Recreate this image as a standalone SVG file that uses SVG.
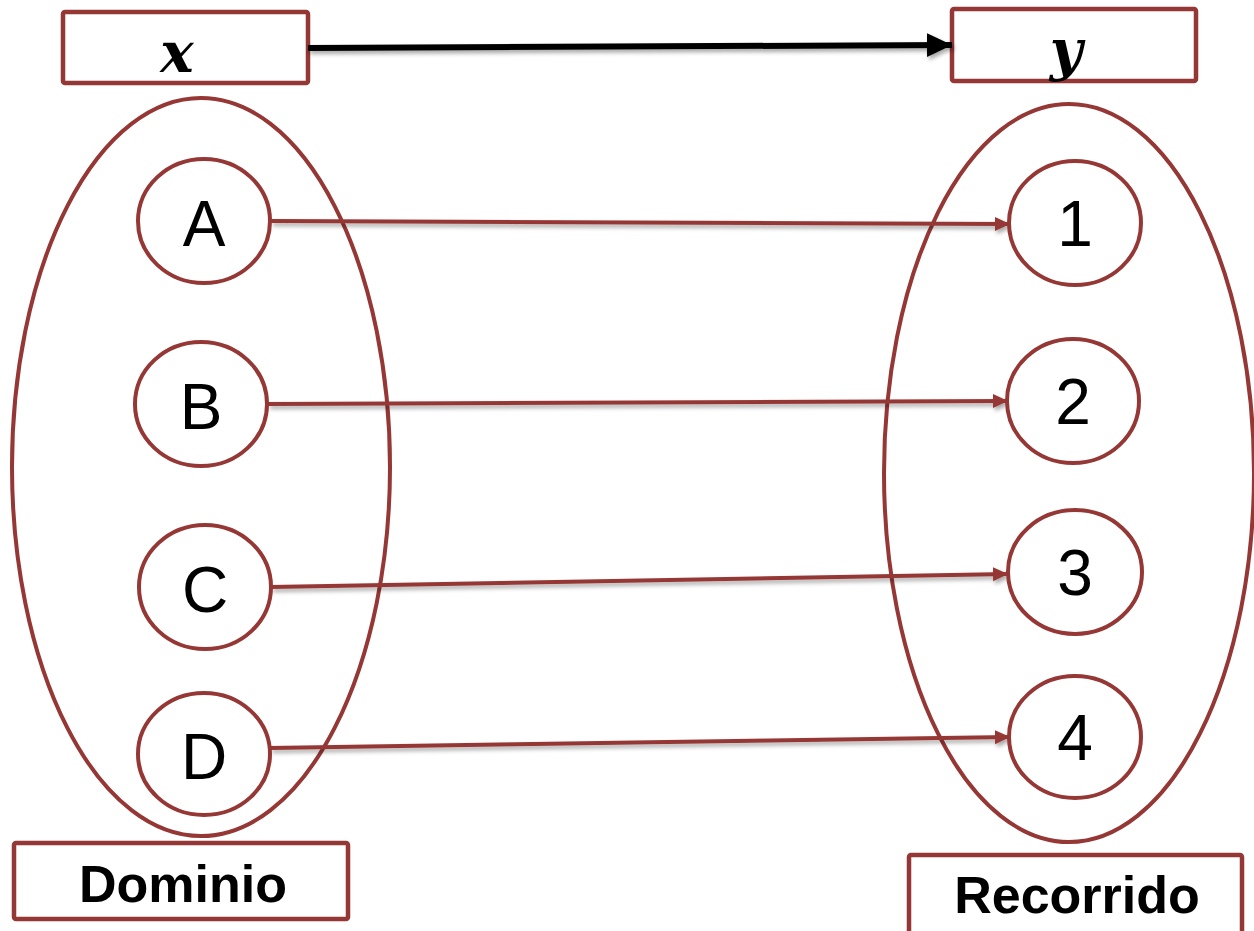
<svg xmlns="http://www.w3.org/2000/svg" width="1254" height="931" viewBox="0 0 1254 931">
<defs>
<style>
.box{fill:#fff;stroke:#953735;stroke-width:4.5}
.set{fill:none;stroke:#953735;stroke-width:4}
.el{fill:#fff;stroke:#953735;stroke-width:4}
.lbl{font-family:"Liberation Sans",Arial,sans-serif;font-size:64px;fill:#000;text-anchor:middle}
.bl{font-family:"Liberation Sans",Arial,sans-serif;font-size:52px;font-weight:bold;fill:#000;text-anchor:middle}
.math{font-family:"DejaVu Serif","Liberation Serif",serif;font-size:56px;font-weight:bold;font-style:italic;fill:#000;text-anchor:middle}
.red{stroke:#953735;stroke-width:4;fill:none;marker-end:url(#ar)}
.blk{stroke:#000;stroke-width:6;fill:none;marker-end:url(#ab)}
</style>
<marker id="ar" markerUnits="userSpaceOnUse" markerWidth="16" markerHeight="16" refX="15" refY="8" orient="auto">
<path d="M0,1 L15,8 L0,15 Z" fill="#953735"/>
</marker>
<marker id="ab" markerUnits="userSpaceOnUse" markerWidth="26" markerHeight="26" refX="25" refY="13" orient="auto">
<path d="M0,1 L25,13 L0,25 Z" fill="#000"/>
</marker>
<filter id="sh" x="-5%" y="-50%" width="110%" height="200%">
<feDropShadow dx="2" dy="3" stdDeviation="2" flood-color="#000" flood-opacity="0.35"/>
</filter>
</defs>
<g id="sets">
<ellipse class="set" cx="201" cy="467" rx="189" ry="369"/>
<ellipse class="set" cx="1069" cy="473" rx="185" ry="369"/>
</g>
<g id="node-x"><rect class="box" x="63" y="12" width="245" height="71" rx="2"/><text class="math" x="177" y="72">x</text></g>
<g id="node-y"><rect class="box" x="952" y="9" width="244" height="72" rx="2"/><text class="math" x="1066" y="70">y</text></g>
<g id="node-dominio"><rect class="box" x="14" y="843" width="334" height="76" rx="2"/><text class="bl" x="183" y="902">Dominio</text></g>
<g id="node-recorrido"><rect class="box" x="909" y="855" width="333" height="90" rx="2"/><text class="bl" x="1077" y="913">Recorrido</text></g>
<g id="connectors" filter="url(#sh)">
<line class="blk" x1="308" y1="48" x2="952" y2="45"/>
<line class="red" x1="271" y1="221" x2="1010" y2="224"/>
<line class="red" x1="268" y1="404" x2="1008" y2="401"/>
<line class="red" x1="271" y1="587" x2="1008" y2="574"/>
<line class="red" x1="270" y1="748" x2="1010" y2="737"/>
</g>
<g id="node-A"><ellipse class="el" cx="204" cy="221" rx="66" ry="62"/><text class="lbl" x="204" y="246">A</text></g>
<g id="node-B"><ellipse class="el" cx="201" cy="404" rx="66" ry="62"/><text class="lbl" x="201" y="429">B</text></g>
<g id="node-C"><ellipse class="el" cx="205" cy="587" rx="66" ry="62"/><text class="lbl" x="205" y="612">C</text></g>
<g id="node-D"><ellipse class="el" cx="204" cy="754" rx="66" ry="61"/><text class="lbl" x="204" y="779">D</text></g>
<g id="node-1"><ellipse class="el" cx="1075" cy="223" rx="66" ry="62"/><text class="lbl" x="1075" y="246">1</text></g>
<g id="node-2"><ellipse class="el" cx="1073" cy="401" rx="66" ry="62"/><text class="lbl" x="1073" y="424">2</text></g>
<g id="node-3"><ellipse class="el" cx="1075" cy="572" rx="67" ry="62"/><text class="lbl" x="1075" y="595">3</text></g>
<g id="node-4"><ellipse class="el" cx="1075" cy="737" rx="66" ry="61"/><text class="lbl" x="1075" y="760">4</text></g>
</svg>
